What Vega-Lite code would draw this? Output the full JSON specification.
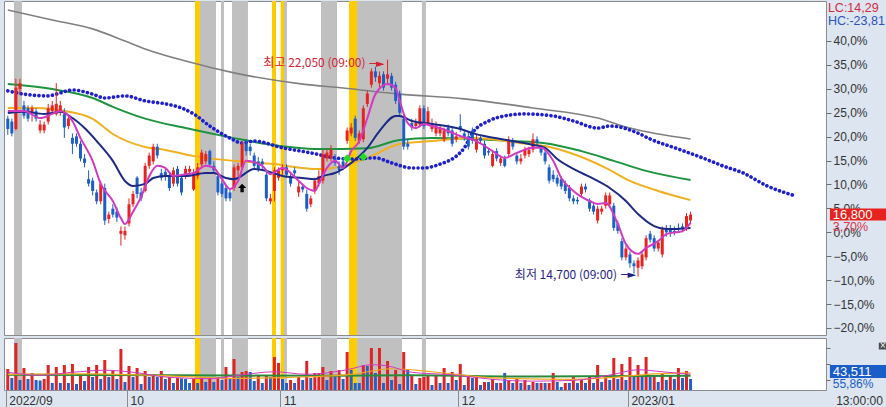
{
"$schema": "https://vega.github.io/schema/vega-lite/v6.json",
"padding": 0,
"background": "#dce5f0",
"config": {
  "view": {"fill": "#ffffff", "stroke": "#8c8c8c", "strokeWidth": 1},
  "concat": {"spacing": 1},
  "axis": {"labelFont": "Liberation Sans", "labelFontSize": 12, "labelColor": "#333333", "tickColor": "#6e6e6e", "domain": false, "grid": false},
  "text": {"font": "Liberation Sans"}
},
"datasets": {
  "bands": [
    {"s":1.53,"e":3.51,"k":"g"},{"s":46.34,"e":47.57,"k":"y"},{"s":47.57,"e":51.53,"k":"g"},{"s":52.77,"e":53.51,"k":"g"},
    {"s":55.5,"e":59.45,"k":"g"},{"s":65.4,"e":66.39,"k":"y"},{"s":67.55,"e":68.37,"k":"y"},{"s":68.37,"e":69.1,"k":"g"},
    {"s":77.52,"e":81.49,"k":"g"},{"s":84.46,"e":86.44,"k":"y"},{"s":86.44,"e":97.57,"k":"g"},{"s":102.5,"e":103.5,"k":"g"}
  ],
  "candles": [
{"i":0,"o":20050,"h":20150,"l":19500,"c":19700,"v":83000,"u":1},
{"i":1,"o":19950,"h":20050,"l":19450,"c":19550,"v":47400,"u":0},
{"i":2,"o":19700,"h":21400,"l":19650,"c":21100,"v":185700,"u":1},
{"i":3,"o":21050,"h":21400,"l":20900,"c":21250,"v":39500,"u":0},
{"i":4,"o":20500,"h":20650,"l":20050,"c":20150,"v":86900,"u":1},
{"i":5,"o":20400,"h":20500,"l":19950,"c":20050,"v":43500,"u":0},
{"i":6,"o":20250,"h":20500,"l":19950,"c":20400,"v":67200,"u":1},
{"i":7,"o":20300,"h":20400,"l":19950,"c":20050,"v":39500,"u":0},
{"i":8,"o":19650,"h":20000,"l":19550,"c":19850,"v":37500,"u":0},
{"i":9,"o":19650,"h":19950,"l":19550,"c":19850,"v":43500,"u":1},
{"i":10,"o":19950,"h":20550,"l":19850,"c":20400,"v":98800,"u":1},
{"i":11,"o":20300,"h":20650,"l":20200,"c":20500,"v":27700,"u":0},
{"i":12,"o":20200,"h":21250,"l":20150,"c":20550,"v":90900,"u":1},
{"i":13,"o":20300,"h":20650,"l":20150,"c":20500,"v":27700,"u":0},
{"i":14,"o":20200,"h":20400,"l":19400,"c":19750,"v":98800,"u":1},
{"i":15,"o":19800,"h":20150,"l":19700,"c":20050,"v":27700,"u":0},
{"i":16,"o":19400,"h":19550,"l":18850,"c":19200,"v":102700,"u":1},
{"i":17,"o":19450,"h":19550,"l":19100,"c":19200,"v":23700,"u":0},
{"i":18,"o":19200,"h":19300,"l":18600,"c":18700,"v":55300,"u":1},
{"i":19,"o":18700,"h":18850,"l":18400,"c":18550,"v":35600,"u":0},
{"i":20,"o":18000,"h":18300,"l":17750,"c":17850,"v":90900,"u":1},
{"i":21,"o":17950,"h":18050,"l":17450,"c":17600,"v":51400,"u":0},
{"i":22,"o":17550,"h":17650,"l":17150,"c":17250,"v":98800,"u":1},
{"i":23,"o":17250,"h":17950,"l":17150,"c":17850,"v":43500,"u":0},
{"i":24,"o":17700,"h":17850,"l":16450,"c":16600,"v":118500,"u":1},
{"i":25,"o":16650,"h":16900,"l":16500,"c":16800,"v":51400,"u":0},
{"i":26,"o":17000,"h":17150,"l":16700,"c":16800,"v":75100,"u":1},
{"i":27,"o":16900,"h":17050,"l":16550,"c":16700,"v":43500,"u":0},
{"i":28,"o":16150,"h":16400,"l":15750,"c":16250,"v":162000,"u":1},
{"i":29,"o":16100,"h":16400,"l":15950,"c":16250,"v":31600,"u":0},
{"i":30,"o":16500,"h":17350,"l":16400,"c":17150,"v":94800,"u":1},
{"i":31,"o":17150,"h":17600,"l":17050,"c":17500,"v":51400,"u":0},
{"i":32,"o":18050,"h":18100,"l":17350,"c":17500,"v":86900,"u":1},
{"i":33,"o":17550,"h":17700,"l":17250,"c":17350,"v":23700,"u":0},
{"i":34,"o":17600,"h":18550,"l":17550,"c":18450,"v":75100,"u":1},
{"i":35,"o":18450,"h":18900,"l":18350,"c":18800,"v":51400,"u":0},
{"i":36,"o":18600,"h":19200,"l":18500,"c":19100,"v":63200,"u":1},
{"i":37,"o":19100,"h":19200,"l":18700,"c":18800,"v":51400,"u":0},
{"i":38,"o":18200,"h":18350,"l":17950,"c":18050,"v":75100,"u":1},
{"i":39,"o":18250,"h":18350,"l":17950,"c":18100,"v":43500,"u":0},
{"i":40,"o":18100,"h":18250,"l":17600,"c":17700,"v":51400,"u":1},
{"i":41,"o":17850,"h":18400,"l":17750,"c":18300,"v":27700,"u":0},
{"i":42,"o":18350,"h":18450,"l":17750,"c":17850,"v":47400,"u":1},
{"i":43,"o":18050,"h":18150,"l":17450,"c":17550,"v":46000,"u":0},
{"i":44,"o":18100,"h":18450,"l":18000,"c":18350,"v":43500,"u":0},
{"i":45,"o":18250,"h":18450,"l":18100,"c":18350,"v":27700,"u":0},
{"i":46,"o":17650,"h":18350,"l":17600,"c":18200,"v":43500,"u":1},
{"i":47,"o":18100,"h":18550,"l":18000,"c":18400,"v":27700,"u":0},
{"i":48,"o":18500,"h":19000,"l":18400,"c":18900,"v":51400,"u":1},
{"i":49,"o":18600,"h":18950,"l":18500,"c":18850,"v":31600,"u":0},
{"i":50,"o":18950,"h":19000,"l":18400,"c":18500,"v":51400,"u":1},
{"i":51,"o":18450,"h":18600,"l":18200,"c":18300,"v":31600,"u":0},
{"i":52,"o":18100,"h":18200,"l":17450,"c":17550,"v":51400,"u":1},
{"i":53,"o":17850,"h":17950,"l":17400,"c":17500,"v":39500,"u":0},
{"i":54,"o":17700,"h":17800,"l":17250,"c":17350,"v":90900,"u":1},
{"i":55,"o":17550,"h":17650,"l":17250,"c":17350,"v":43500,"u":0},
{"i":56,"o":17700,"h":18500,"l":17600,"c":18400,"v":122500,"u":1},
{"i":57,"o":18300,"h":18550,"l":18100,"c":18450,"v":51400,"u":0},
{"i":58,"o":18400,"h":19300,"l":18300,"c":19200,"v":71100,"u":1},
{"i":59,"o":19200,"h":19350,"l":18800,"c":18950,"v":75100,"u":1},
{"i":60,"o":19100,"h":19200,"l":18800,"c":18950,"v":71100,"u":0},
{"i":61,"o":18800,"h":18900,"l":18350,"c":18450,"v":35600,"u":0},
{"i":62,"o":18600,"h":18750,"l":18250,"c":18350,"v":55300,"u":1},
{"i":63,"o":18600,"h":18700,"l":18350,"c":18500,"v":27700,"u":0},
{"i":64,"o":18150,"h":18300,"l":17250,"c":17350,"v":55300,"u":1},
{"i":65,"o":17250,"h":17500,"l":17150,"c":17350,"v":51400,"u":0},
{"i":66,"o":17600,"h":18400,"l":17250,"c":18300,"v":130400,"u":1},
{"i":67,"o":18050,"h":18400,"l":17950,"c":18300,"v":106700,"u":1},
{"i":68,"o":18300,"h":18500,"l":18150,"c":18400,"v":43500,"u":0},
{"i":69,"o":18400,"h":18500,"l":18050,"c":18150,"v":27700,"u":0},
{"i":70,"o":18100,"h":18200,"l":17750,"c":17850,"v":39500,"u":1},
{"i":71,"o":18300,"h":18400,"l":18050,"c":18200,"v":27700,"u":0},
{"i":72,"o":17550,"h":17900,"l":17400,"c":17750,"v":51400,"u":1},
{"i":73,"o":17750,"h":17850,"l":17550,"c":17650,"v":39500,"u":0},
{"i":74,"o":17500,"h":17650,"l":16900,"c":17000,"v":114600,"u":1},
{"i":75,"o":17150,"h":17450,"l":17050,"c":17350,"v":47400,"u":0},
{"i":76,"o":17600,"h":18050,"l":17500,"c":17950,"v":67200,"u":1},
{"i":77,"o":17850,"h":18300,"l":17750,"c":18100,"v":67200,"u":1},
{"i":78,"o":17950,"h":19000,"l":17850,"c":18850,"v":90900,"u":1},
{"i":79,"o":18700,"h":19000,"l":18600,"c":18900,"v":39500,"u":0},
{"i":80,"o":18700,"h":19150,"l":18600,"c":19000,"v":75100,"u":1},
{"i":81,"o":18700,"h":18850,"l":18450,"c":18550,"v":59300,"u":0},
{"i":82,"o":18450,"h":18600,"l":18150,"c":18300,"v":79000,"u":1},
{"i":83,"o":18600,"h":18700,"l":18300,"c":18400,"v":43500,"u":0},
{"i":84,"o":19300,"h":19750,"l":19200,"c":19650,"v":150100,"u":1},
{"i":85,"o":19550,"h":19900,"l":19450,"c":19750,"v":79000,"u":0},
{"i":86,"o":20050,"h":20150,"l":19300,"c":19400,"v":27700,"u":0},
{"i":87,"o":19300,"h":19650,"l":19200,"c":19550,"v":27700,"u":0},
{"i":88,"o":19350,"h":20500,"l":19250,"c":20400,"v":98800,"u":1},
{"i":89,"o":20550,"h":21000,"l":20450,"c":20900,"v":94800,"u":0},
{"i":90,"o":21200,"h":21750,"l":21100,"c":21650,"v":165900,"u":1},
{"i":91,"o":21650,"h":21800,"l":21300,"c":21450,"v":67200,"u":0},
{"i":92,"o":21250,"h":21650,"l":21100,"c":21500,"v":165900,"u":1},
{"i":93,"o":21550,"h":21650,"l":21000,"c":21100,"v":27700,"u":0},
{"i":94,"o":21400,"h":22050,"l":21250,"c":21550,"v":114600,"u":1},
{"i":95,"o":21500,"h":21600,"l":21000,"c":21100,"v":39500,"u":0},
{"i":96,"o":21200,"h":21300,"l":20550,"c":20650,"v":79000,"u":1},
{"i":97,"o":20900,"h":21000,"l":20150,"c":20250,"v":23700,"u":0},
{"i":98,"o":20050,"h":20150,"l":19000,"c":19100,"v":150100,"u":1},
{"i":99,"o":19200,"h":19350,"l":19000,"c":19100,"v":79000,"u":0},
{"i":100,"o":19900,"h":20050,"l":19650,"c":19750,"v":59300,"u":1},
{"i":101,"o":19800,"h":20050,"l":19700,"c":19900,"v":23700,"u":0},
{"i":102,"o":19850,"h":20500,"l":19750,"c":20400,"v":47400,"u":1},
{"i":103,"o":20400,"h":20500,"l":19700,"c":19800,"v":51400,"u":1},
{"i":104,"o":19900,"h":20450,"l":19800,"c":20300,"v":55300,"u":1},
{"i":105,"o":19700,"h":20050,"l":19600,"c":19900,"v":19800,"u":0},
{"i":106,"o":19550,"h":19950,"l":19450,"c":19800,"v":59300,"u":1},
{"i":107,"o":19550,"h":19850,"l":19450,"c":19750,"v":27700,"u":0},
{"i":108,"o":19350,"h":19750,"l":19250,"c":19650,"v":86900,"u":1},
{"i":109,"o":19750,"h":19850,"l":19450,"c":19550,"v":27700,"u":0},
{"i":110,"o":19650,"h":19750,"l":19100,"c":19200,"v":71100,"u":1},
{"i":111,"o":19350,"h":19600,"l":19250,"c":19450,"v":39500,"u":0},
{"i":112,"o":19800,"h":20200,"l":19600,"c":19700,"v":102700,"u":1},
{"i":113,"o":19550,"h":19650,"l":19300,"c":19400,"v":19800,"u":0},
{"i":114,"o":19450,"h":19600,"l":19000,"c":19100,"v":59300,"u":1},
{"i":115,"o":19650,"h":19750,"l":19200,"c":19300,"v":47400,"u":0},
{"i":116,"o":19000,"h":19500,"l":18900,"c":19350,"v":51400,"u":1},
{"i":117,"o":19400,"h":19500,"l":19200,"c":19300,"v":19800,"u":0},
{"i":118,"o":19200,"h":19300,"l":18700,"c":18800,"v":31600,"u":1},
{"i":119,"o":18950,"h":19050,"l":18800,"c":18900,"v":31600,"u":0},
{"i":120,"o":18450,"h":18950,"l":18400,"c":18850,"v":43500,"u":1},
{"i":121,"o":18950,"h":19050,"l":18600,"c":18700,"v":27700,"u":0},
{"i":122,"o":18550,"h":18800,"l":18450,"c":18700,"v":27700,"u":1},
{"i":123,"o":18700,"h":18800,"l":18400,"c":18450,"v":67200,"u":0},
{"i":124,"o":18850,"h":19450,"l":18750,"c":19300,"v":39500,"u":1},
{"i":125,"o":19300,"h":19400,"l":19000,"c":19100,"v":27700,"u":0},
{"i":126,"o":18800,"h":18900,"l":18500,"c":18600,"v":43500,"u":1},
{"i":127,"o":18600,"h":18850,"l":18500,"c":18700,"v":27700,"u":0},
{"i":128,"o":18800,"h":19100,"l":18700,"c":19000,"v":39500,"u":1},
{"i":129,"o":18850,"h":19100,"l":18750,"c":19000,"v":19800,"u":0},
{"i":130,"o":19000,"h":19550,"l":18900,"c":19350,"v":31600,"u":1},
{"i":131,"o":19350,"h":19450,"l":19150,"c":19250,"v":27700,"u":0},
{"i":132,"o":19050,"h":19150,"l":18800,"c":18900,"v":27700,"u":1},
{"i":133,"o":18900,"h":19000,"l":18500,"c":18600,"v":27700,"u":0},
{"i":134,"o":18400,"h":18500,"l":17850,"c":17950,"v":27700,"u":1},
{"i":135,"o":18150,"h":18300,"l":17900,"c":18000,"v":67200,"u":1},
{"i":136,"o":18050,"h":18150,"l":17750,"c":17850,"v":31600,"u":0},
{"i":137,"o":18000,"h":18100,"l":17650,"c":17750,"v":11900,"u":0},
{"i":138,"o":17850,"h":17950,"l":17500,"c":17600,"v":27700,"u":1},
{"i":139,"o":17700,"h":17800,"l":17250,"c":17350,"v":27700,"u":0},
{"i":140,"o":17350,"h":17450,"l":17150,"c":17250,"v":51400,"u":1},
{"i":141,"o":17300,"h":17400,"l":17150,"c":17250,"v":27700,"u":0},
{"i":142,"o":17500,"h":17850,"l":17400,"c":17750,"v":39500,"u":1},
{"i":143,"o":17750,"h":17850,"l":17550,"c":17650,"v":27700,"u":0},
{"i":144,"o":17250,"h":17350,"l":16900,"c":17000,"v":51400,"u":1},
{"i":145,"o":17100,"h":17200,"l":16800,"c":16900,"v":27700,"u":0},
{"i":146,"o":16600,"h":17100,"l":16500,"c":17000,"v":98800,"u":1},
{"i":147,"o":16900,"h":17100,"l":16800,"c":17000,"v":31600,"u":0},
{"i":148,"o":17100,"h":17550,"l":17000,"c":17450,"v":59300,"u":1},
{"i":149,"o":17150,"h":17550,"l":17050,"c":17450,"v":39500,"u":0},
{"i":150,"o":17100,"h":17200,"l":16250,"c":16350,"v":126400,"u":1},
{"i":151,"o":16500,"h":16600,"l":16150,"c":16250,"v":43500,"u":0},
{"i":152,"o":15900,"h":16000,"l":15250,"c":15350,"v":102700,"u":1},
{"i":153,"o":15350,"h":15750,"l":15250,"c":15650,"v":39500,"u":0},
{"i":154,"o":15450,"h":15550,"l":15000,"c":15150,"v":130400,"u":1},
{"i":155,"o":15150,"h":15250,"l":14800,"c":15050,"v":51400,"u":0},
{"i":156,"o":15000,"h":15350,"l":14700,"c":15250,"v":98800,"u":1},
{"i":157,"o":15050,"h":15550,"l":14950,"c":15450,"v":51400,"u":0},
{"i":158,"o":15350,"h":16100,"l":15250,"c":16000,"v":130400,"u":1},
{"i":159,"o":16150,"h":16250,"l":15850,"c":15950,"v":51400,"u":0},
{"i":160,"o":16000,"h":16100,"l":15550,"c":15650,"v":59300,"u":1},
{"i":161,"o":15650,"h":15900,"l":15550,"c":15850,"v":31600,"u":0},
{"i":162,"o":15450,"h":16400,"l":15350,"c":16300,"v":67200,"u":1},
{"i":163,"o":16350,"h":16450,"l":16050,"c":16200,"v":39500,"u":0},
{"i":164,"o":16300,"h":16450,"l":16050,"c":16200,"v":55300,"u":1},
{"i":165,"o":16250,"h":16400,"l":16100,"c":16200,"v":43500,"u":0},
{"i":166,"o":16350,"h":16500,"l":16200,"c":16300,"v":86900,"u":1},
{"i":167,"o":16400,"h":16500,"l":16200,"c":16350,"v":47400,"u":0},
{"i":168,"o":16350,"h":16850,"l":16250,"c":16750,"v":75100,"u":1},
{"i":169,"o":16600,"h":16900,"l":16500,"c":16800,"v":43511,"u":0}
  ],
  "gray": [{"i":0,"p":23730},{"i":11,"p":23390},{"i":21,"p":23090},{"i":29,"p":22680},{"i":34,"p":22410},{"i":44,"p":22000},{"i":56,"p":21600},{"i":73,"p":21220},{"i":83,"p":21090},{"i":97,"p":20880},{"i":113,"p":20720},{"i":130,"p":20410},{"i":146,"p":20070},{"i":154,"p":19730},{"i":169,"p":19360}],
  "green": [{"i":0,"p":21220},{"i":11,"p":21050},{"i":21,"p":20750},{"i":26,"p":20450},{"i":34,"p":20050},{"i":44,"p":19730},{"i":56,"p":19390},{"i":64,"p":19190},{"i":77,"p":19020},{"i":89,"p":19050},{"i":97,"p":19330},{"i":105,"p":19390},{"i":115,"p":19360},{"i":125,"p":19290},{"i":133,"p":19220},{"i":142,"p":18950},{"i":150,"p":18620},{"i":158,"p":18280},{"i":169,"p":17970}],
  "orange": [{"i":0,"p":20410},{"i":7,"p":20410},{"i":14,"p":20310},{"i":21,"p":20040},{"i":26,"p":19530},{"i":34,"p":19090},{"i":39,"p":18990},{"i":46,"p":18780},{"i":56,"p":18620},{"i":66,"p":18510},{"i":73,"p":18380},{"i":77,"p":18340},{"i":83,"p":18450},{"i":89,"p":18720},{"i":97,"p":19190},{"i":105,"p":19290},{"i":115,"p":19390},{"i":127,"p":19220},{"i":133,"p":19120},{"i":140,"p":18850},{"i":148,"p":18380},{"i":154,"p":17940},{"i":161,"p":17600},{"i":169,"p":17290}],
  "navy": [{"i":0,"p":20240},{"i":4,"p":20280},{"i":9,"p":20210},{"i":13,"p":20280},{"i":16,"p":20070},{"i":19,"p":19730},{"i":22,"p":19290},{"i":26,"p":18620},{"i":29,"p":17940},{"i":31,"p":17770},{"i":34,"p":17840},{"i":36,"p":18040},{"i":39,"p":18110},{"i":44,"p":18110},{"i":49,"p":18210},{"i":51,"p":18210},{"i":54,"p":18040},{"i":56,"p":18000},{"i":61,"p":18340},{"i":64,"p":18280},{"i":68,"p":18110},{"i":73,"p":18040},{"i":76,"p":18000},{"i":78,"p":18110},{"i":81,"p":18210},{"i":85,"p":18550},{"i":89,"p":19060},{"i":92,"p":19630},{"i":96,"p":20140},{"i":97,"p":20140},{"i":100,"p":19970},{"i":105,"p":19870},{"i":112,"p":19700},{"i":115,"p":19560},{"i":118,"p":19460},{"i":125,"p":19290},{"i":130,"p":19160},{"i":133,"p":19060},{"i":136,"p":18680},{"i":141,"p":18280},{"i":146,"p":17940},{"i":149,"p":17700},{"i":153,"p":17260},{"i":156,"p":16820},{"i":160,"p":16410},{"i":163,"p":16310},{"i":169,"p":16350}],
  "magenta": [{"i":0,"p":20310},{"i":4,"p":20310},{"i":8,"p":20070},{"i":11,"p":20210},{"i":13,"p":20310},{"i":16,"p":19970},{"i":18,"p":19390},{"i":21,"p":18620},{"i":23,"p":17840},{"i":26,"p":17260},{"i":28,"p":16680},{"i":29,"p":16480},{"i":31,"p":16900},{"i":33,"p":17400},{"i":35,"p":18100},{"i":37,"p":18450},{"i":39,"p":18380},{"i":41,"p":18110},{"i":44,"p":18170},{"i":46,"p":18210},{"i":49,"p":18450},{"i":51,"p":18380},{"i":53,"p":18000},{"i":55,"p":17670},{"i":57,"p":17940},{"i":59,"p":18620},{"i":63,"p":18450},{"i":65,"p":18170},{"i":68,"p":18380},{"i":72,"p":17940},{"i":74,"p":17700},{"i":76,"p":17600},{"i":77,"p":17840},{"i":79,"p":18380},{"i":81,"p":18620},{"i":83,"p":18380},{"i":85,"p":18950},{"i":87,"p":19290},{"i":89,"p":20070},{"i":91,"p":20880},{"i":94,"p":21220},{"i":96,"p":21090},{"i":97,"p":20650},{"i":99,"p":19900},{"i":101,"p":19730},{"i":103,"p":19870},{"i":105,"p":19800},{"i":109,"p":19630},{"i":112,"p":19460},{"i":116,"p":19290},{"i":120,"p":18950},{"i":123,"p":18720},{"i":126,"p":18890},{"i":130,"p":19060},{"i":132,"p":19060},{"i":135,"p":18620},{"i":137,"p":18040},{"i":140,"p":17600},{"i":144,"p":17260},{"i":146,"p":17160},{"i":148,"p":17190},{"i":151,"p":16480},{"i":153,"p":15800},{"i":156,"p":15470},{"i":158,"p":15670},{"i":161,"p":15900},{"i":163,"p":16140},{"i":167,"p":16240},{"i":169,"p":16520}],
  "dots": [{"i":0,"p":20990},{"i":4,"p":20880},{"i":10,"p":20820},{"i":12,"p":20880},{"i":16,"p":21020},{"i":21,"p":20880},{"i":24,"p":20750},{"i":29,"p":20820},{"i":34,"p":20650},{"i":39,"p":20550},{"i":43,"p":20410},{"i":46,"p":20210},{"i":50,"p":19800},{"i":55,"p":19390},{"i":58,"p":19220},{"i":61,"p":19290},{"i":68,"p":19060},{"i":75,"p":18890},{"i":81,"p":18720},{"i":85,"p":18680},{"i":91,"p":18720},{"i":95,"p":18550},{"i":100,"p":18380},{"i":103,"p":18380},{"i":107,"p":18510},{"i":111,"p":18780},{"i":113,"p":19060},{"i":115,"p":19560},{"i":119,"p":19970},{"i":123,"p":20140},{"i":128,"p":20210},{"i":135,"p":20140},{"i":140,"p":19970},{"i":146,"p":19730},{"i":149,"p":19800},{"i":156,"p":19560},{"i":159,"p":19360},{"i":166,"p":19020},{"i":172,"p":18720},{"i":177,"p":18450},{"i":182,"p":18210},{"i":188,"p":17770},{"i":195,"p":17430}],
  "vm": [{"i":0,"v":70000},{"i":8,"v":58000},{"i":16,"v":70000},{"i":24,"v":78000},{"i":30,"v":72000},{"i":40,"v":50000},{"i":50,"v":45000},{"i":58,"v":60000},{"i":66,"v":72000},{"i":74,"v":62000},{"i":84,"v":80000},{"i":90,"v":100000},{"i":94,"v":95000},{"i":100,"v":70000},{"i":110,"v":60000},{"i":120,"v":42000},{"i":130,"v":35000},{"i":140,"v":38000},{"i":150,"v":62000},{"i":156,"v":80000},{"i":162,"v":72000},{"i":169,"v":62000}],
  "vo": [{"i":0,"v":62000},{"i":20,"v":64000},{"i":40,"v":56000},{"i":55,"v":46000},{"i":70,"v":50000},{"i":85,"v":62000},{"i":95,"v":84000},{"i":105,"v":72000},{"i":120,"v":48000},{"i":140,"v":42000},{"i":150,"v":50000},{"i":160,"v":64000},{"i":169,"v":68000}],
  "vg": [{"i":0,"v":60000},{"i":40,"v":58000},{"i":80,"v":56000},{"i":100,"v":58000},{"i":130,"v":53000},{"i":169,"v":56000}]
},
"vconcat": [
{
  "width": 822, "height": 334,
  "encoding": {
    "x": {"type": "quantitative", "scale": {"domain": [-0.94, 202.53], "nice": false, "zero": false}, "axis": null},
    "y": {"type": "quantitative", "scale": {"domain": [12722, 24034], "nice": false, "zero": false},
      "axis": {"orient": "right", "values": [12960, 13770, 14580, 15390, 16200, 17010, 17820, 18630, 19440, 20250, 21060, 21870, 22680], "labelExpr": "replace(format((datum.value/16200-1)*100, '.1f'), '.', ',') + '%'", "tickSize": 5, "labelPadding": 2, "minExtent": 64, "title": null}}
  },
  "layer": [
    {"data": {"name": "bands"}, "mark": {"type": "rect"},
     "encoding": {"x": {"field": "s", "type": "quantitative"}, "x2": {"field": "e"}, "y": null,
      "color": {"field": "k", "type": "nominal", "scale": {"domain": ["g", "y"], "range": ["#c0c0c0", "#ffcc00"]}, "legend": null}}},
    {"data": {"name": "gray"}, "mark": {"type": "line", "color": "#808080", "strokeWidth": 1.6, "interpolate": "monotone"},
     "encoding": {"x": {"field": "i", "type": "quantitative"}, "y": {"field": "p", "type": "quantitative"}}},
    {"data": {"name": "green"}, "mark": {"type": "line", "color": "#1f9440", "strokeWidth": 2, "interpolate": "monotone"},
     "encoding": {"x": {"field": "i", "type": "quantitative"}, "y": {"field": "p", "type": "quantitative"}}},
    {"data": {"name": "orange"}, "mark": {"type": "line", "color": "#f0b020", "strokeWidth": 2, "interpolate": "monotone"},
     "encoding": {"x": {"field": "i", "type": "quantitative"}, "y": {"field": "p", "type": "quantitative"}}},
    {"data": {"name": "dots"}, "mark": {"type": "line", "color": "#1f1fd0", "strokeWidth": 3.6, "strokeCap": "round", "strokeDash": [0.1, 4.4], "interpolate": "monotone"},
     "encoding": {"x": {"field": "i", "type": "quantitative"}, "y": {"field": "p", "type": "quantitative"}}},
    {"data": {"name": "candles"}, "mark": {"type": "rule", "strokeWidth": 1},
     "encoding": {"x": {"field": "i", "type": "quantitative"}, "y": {"field": "l", "type": "quantitative"}, "y2": {"field": "h"},
      "color": {"condition": {"test": "datum.c >= datum.o", "value": "#e8221e"}, "value": "#1c5ec8"}}},
    {"data": {"name": "candles"}, "mark": {"type": "rule", "strokeWidth": 3, "strokeCap": "butt"},
     "encoding": {"x": {"field": "i", "type": "quantitative"}, "y": {"field": "o", "type": "quantitative"}, "y2": {"field": "c"},
      "color": {"condition": {"test": "datum.c >= datum.o", "value": "#e8221e"}, "value": "#1c5ec8"}}},
    {"data": {"name": "navy"}, "mark": {"type": "line", "color": "#1c2a86", "strokeWidth": 2, "interpolate": "monotone"},
     "encoding": {"x": {"field": "i", "type": "quantitative"}, "y": {"field": "p", "type": "quantitative"}}},
    {"data": {"name": "magenta"}, "mark": {"type": "line", "color": "#d23ac3", "strokeWidth": 2, "interpolate": "monotone"},
     "encoding": {"x": {"field": "i", "type": "quantitative"}, "y": {"field": "p", "type": "quantitative"}}},
    {"data": {"values": [{"i": 84, "p": 18700}, {"i": 88, "p": 18750}]}, "mark": {"type": "point", "shape": "diamond", "filled": true, "color": "#22dd22", "size": 70, "opacity": 1},
     "encoding": {"x": {"field": "i", "type": "quantitative"}, "y": {"field": "p", "type": "quantitative"}}},
    {"data": {"values": [{"i": 58, "p": 17700}]}, "mark": {"type": "point", "shape": "M0,-1L1,0L0.4,0L0.4,1L-0.4,1L-0.4,0L-1,0Z", "filled": true, "color": "#000000", "size": 70, "opacity": 1},
     "encoding": {"x": {"field": "i", "type": "quantitative"}, "y": {"field": "p", "type": "quantitative"}}},
    {"data": {"values": [{"i": 94, "p": 22050, "t": "최고 22,050 (09:00)"}]}, "mark": {"type": "text", "align": "right", "baseline": "middle", "dx": -22, "dy": 3, "color": "#d42233", "font": "Noto Sans CJK KR", "fontSize": 12},
     "encoding": {"x": {"field": "i", "type": "quantitative"}, "y": {"field": "p", "type": "quantitative"}, "text": {"field": "t"}}},
    {"data": {"values": [{"i": 94, "p": 22050}]}, "mark": {"type": "text", "text": "─►", "align": "right", "baseline": "middle", "dx": -3, "dy": 4, "color": "#d42233", "font": "DejaVu Sans", "fontSize": 11},
     "encoding": {"x": {"field": "i", "type": "quantitative"}, "y": {"field": "p", "type": "quantitative"}}},
    {"data": {"values": [{"i": 156, "p": 14700, "t": "최저 14,700 (09:00)"}]}, "mark": {"type": "text", "align": "right", "baseline": "middle", "dx": -21, "dy": -2, "color": "#1e1e8c", "font": "Noto Sans CJK KR", "fontSize": 12},
     "encoding": {"x": {"field": "i", "type": "quantitative"}, "y": {"field": "p", "type": "quantitative"}, "text": {"field": "t"}}},
    {"data": {"values": [{"i": 156, "p": 14700}]}, "mark": {"type": "text", "text": "─►", "align": "right", "baseline": "middle", "dx": -2, "dy": -2, "color": "#1e1e8c", "font": "DejaVu Sans", "fontSize": 11},
     "encoding": {"x": {"field": "i", "type": "quantitative"}, "y": {"field": "p", "type": "quantitative"}}},
    {"data": {"values": [{}]}, "mark": {"type": "text", "text": "LC:14,29", "align": "left", "baseline": "middle", "color": "#d42a3c", "fontSize": 12.5},
     "encoding": {"x": {"datum": 203, "type": "quantitative"}, "y": {"datum": 23790, "type": "quantitative"}}},
    {"data": {"values": [{}]}, "mark": {"type": "text", "text": "HC:-23,81", "align": "left", "baseline": "middle", "color": "#2a52be", "fontSize": 12.5},
     "encoding": {"x": {"datum": 203, "type": "quantitative"}, "y": {"datum": 23360, "type": "quantitative"}}},
    {"data": {"values": [{}]}, "mark": {"type": "rect", "color": "#e8221e"},
     "encoding": {"x": {"datum": 203.5, "type": "quantitative"}, "x2": {"datum": 218.4}, "y": {"datum": 17010, "type": "quantitative"}, "y2": {"datum": 16600}}},
    {"data": {"values": [{"p": 16800}]}, "mark": {"type": "text", "text": "16,800", "align": "left", "baseline": "middle", "color": "#ffffff", "fontSize": 13},
     "encoding": {"x": {"datum": 204.2, "type": "quantitative"}, "y": {"field": "p", "type": "quantitative"}}},
    {"data": {"values": [{}]}, "mark": {"type": "text", "text": "3,70%", "align": "left", "baseline": "middle", "color": "#e0304c", "fontSize": 12.5},
     "encoding": {"x": {"datum": 204.2, "type": "quantitative"}, "y": {"datum": 16380, "type": "quantitative"}}}
  ]
},
{
  "width": 822, "height": 52,
  "encoding": {
    "x": {"type": "quantitative", "scale": {"domain": [-0.94, 202.53], "nice": false, "zero": false},
      "axis": {"orient": "bottom", "values": [-0.5, 29.5, 67.5, 111.5, 153.5], "labelExpr": "datum.value < 0 ? '2022/09' : datum.value < 40 ? '10' : datum.value < 80 ? '11' : datum.value < 130 ? '12' : '2023/01'", "tickSize": 20, "tickColor": "#8c8c8c", "labelPadding": -10, "labelAlign": "left", "labelBaseline": "middle", "labelOffset": 3, "labelFlush": false, "labelOverlap": false, "labelBound": false, "labelColor": "#333333", "title": "13:00:00", "titleX": 855, "titleY": 10, "titleAlign": "center", "titleBaseline": "middle", "titleFont": "Liberation Sans", "titleFontSize": 12, "titleFontWeight": "normal", "titleColor": "#333333"}},
    "y": {"type": "quantitative", "scale": {"domain": [0, 205400], "nice": false, "zero": false},
      "axis": {"orient": "right", "values": [40000, 103000, 166000], "labels": false, "tickSize": 4, "minExtent": 64, "title": null}}
  },
  "layer": [
    {"data": {"name": "bands"}, "mark": {"type": "rect"},
     "encoding": {"x": {"field": "s", "type": "quantitative"}, "x2": {"field": "e"}, "y": null,
      "color": {"field": "k", "type": "nominal", "scale": {"domain": ["g", "y"], "range": ["#c0c0c0", "#ffcc00"]}, "legend": null}}},
    {"data": {"name": "candles"}, "mark": {"type": "rule", "strokeWidth": 3, "strokeCap": "butt"},
     "encoding": {"x": {"field": "i", "type": "quantitative"}, "y": {"field": "v", "type": "quantitative"}, "y2": {"datum": 0},
      "color": {"condition": {"test": "datum.u == 1", "value": "#e02424"}, "value": "#2262c6"}}},
    {"data": {"name": "vg"}, "mark": {"type": "line", "color": "#2a8a3a", "strokeWidth": 2, "interpolate": "monotone"},
     "encoding": {"x": {"field": "i", "type": "quantitative"}, "y": {"field": "v", "type": "quantitative"}}},
    {"data": {"name": "vo"}, "mark": {"type": "line", "color": "#f0a820", "strokeWidth": 1.2, "interpolate": "monotone"},
     "encoding": {"x": {"field": "i", "type": "quantitative"}, "y": {"field": "v", "type": "quantitative"}}},
    {"data": {"name": "vm"}, "mark": {"type": "line", "color": "#d23ac3", "strokeWidth": 1, "interpolate": "monotone"},
     "encoding": {"x": {"field": "i", "type": "quantitative"}, "y": {"field": "v", "type": "quantitative"}}},
    {"data": {"values": [{}]}, "mark": {"type": "rect", "color": "#1a5cc8"},
     "encoding": {"x": {"datum": 203.5, "type": "quantitative"}, "x2": {"datum": 218.4}, "y": {"datum": 98750, "type": "quantitative"}, "y2": {"datum": 47400}}},
    {"data": {"values": [{}]}, "mark": {"type": "text", "text": "43,511", "align": "left", "baseline": "middle", "color": "#ffffff", "fontSize": 13},
     "encoding": {"x": {"datum": 204.2, "type": "quantitative"}, "y": {"datum": 73000, "type": "quantitative"}}},
    {"data": {"values": [{}]}, "mark": {"type": "text", "text": "55,86%", "align": "left", "baseline": "middle", "color": "#1a5cc8", "fontSize": 12},
     "encoding": {"x": {"datum": 204.2, "type": "quantitative"}, "y": {"datum": 25000, "type": "quantitative"}}},
    {"data": {"values": [{}]}, "mark": {"type": "rect", "color": "#4a4a4a"},
     "encoding": {"x": {"datum": 215.6, "type": "quantitative"}, "x2": {"datum": 217.6}, "y": {"datum": 187000, "type": "quantitative"}, "y2": {"datum": 160000}}},
    {"data": {"values": [{}]}, "mark": {"type": "text", "text": "×", "align": "center", "baseline": "middle", "color": "#ffffff", "fontSize": 8, "font": "DejaVu Sans"},
     "encoding": {"x": {"datum": 216.6, "type": "quantitative"}, "y": {"datum": 173500, "type": "quantitative"}}}
  ]
}
]
}
